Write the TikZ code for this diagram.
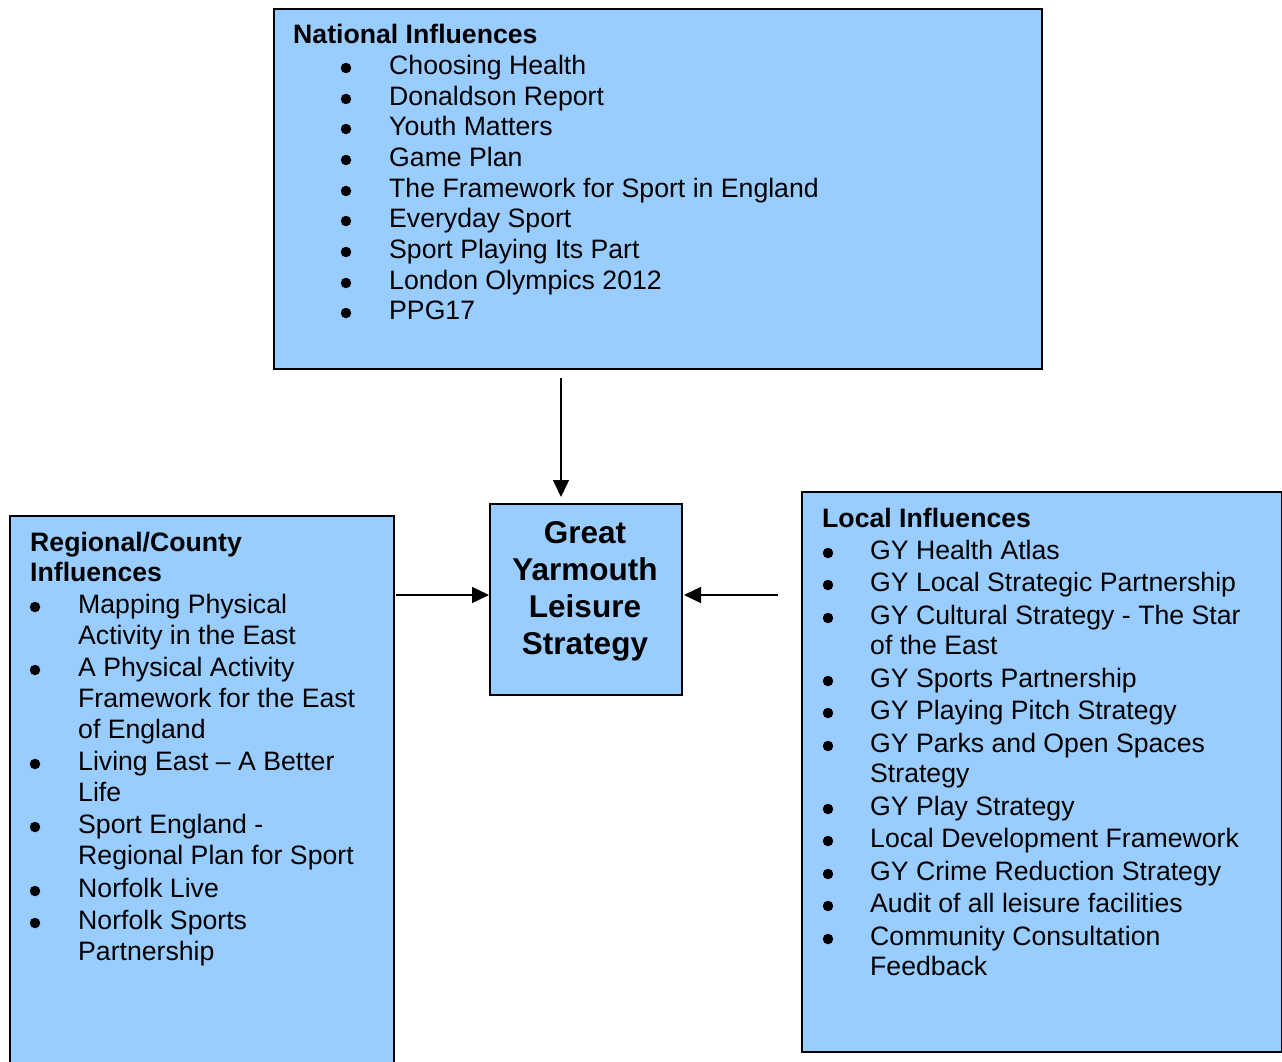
\documentclass[tikz,border=0pt]{standalone}
\usepackage{fontspec}
\setmainfont{Liberation Sans}
\usetikzlibrary{arrows.meta}
\definecolor{boxblue}{HTML}{99CCFF}
\newcommand\normsz{\fontsize{26.65}{30.7}\selectfont}
\newcommand\bigsz{\fontsize{31.5}{37}\selectfont}
\begin{document}
\begin{tikzpicture}[x=1pt,y=-1pt,
  box/.style={draw=black, line width=2pt, fill=boxblue, inner sep=0pt, anchor=north west},
  txt/.style={anchor=base west, inner sep=0pt, font=\normsz},
  hd/.style={anchor=base west, inner sep=0pt, font=\normsz\bfseries},
  bul/.style={circle, fill=black, inner sep=0pt, minimum size=10.5pt},
  ctr/.style={anchor=base, inner sep=0pt, font=\bigsz\bfseries},
  arr/.style={line width=1.5pt, -{Triangle[length=17pt,width=16pt]}}]
\clip (0,0) rectangle (1282,1062);
\fill[white] (0,0) rectangle (1282,1062);
% boxes
\node[box, minimum width=768pt, minimum height=360pt] (nat) at (273,8) {};
\node[box, minimum width=192pt, minimum height=191pt] (gy) at (489,503) {};
\node[box, minimum width=384pt, minimum height=560pt] (reg) at (9,515) {};
\node[box, minimum width=480pt, minimum height=560pt] (loc) at (801,491) {};
% national
\node[hd] (nath) at (293,43.5) {National Influences};
\foreach \t/\y [count=\i] in {Choosing Health/65, Donaldson Report/96, Youth Matters/126,
  Game Plan/157, The Framework for Sport in England/188, Everyday Sport/218,
  Sport Playing Its Part/249, London Olympics 2012/280, PPG17/310} {
  \node[bul] (natb\i) at (346,\y+3) {};
  \node[txt] (natt\i) at (389,\y+9.5) {\t};
}
% centre
\node[ctr] (gy1) at (585,532+11.3) {Great};
\node[ctr] (gy2) at (585,569+11.3) {Yarmouth};
\node[ctr] (gy3) at (585,606+11.3) {Leisure};
\node[ctr] (gy4) at (585,643+11.3) {Strategy};
% regional
\node[hd] (regh1) at (30,542+9.5) {Regional/County};
\node[hd] (regh2) at (30,572+9.5) {Influences};
\foreach \y [count=\i] in {604,667,761,824,888,920} {
  \node[bul] (regb\i) at (35,\y+3) {};
}
\foreach \t/\y [count=\i] in {Mapping Physical/604, Activity in the East/635,
  A Physical Activity/667, Framework for the East/698, of England/729,
  Living East – A Better/761, Life/792, Sport England -/824,
  Regional Plan for Sport/855, Norfolk Live/888, Norfolk Sports/920, Partnership/951} {
  \node[txt] (regt\i) at (78,\y+9.5) {\t};
}
% local
\node[hd] (loch) at (822,518+9.5) {Local Influences};
\foreach \y [count=\i] in {550,582,615,678,710,743,806,838,871,903,936} {
  \node[bul] (locb\i) at (828,\y+3) {};
}
\foreach \t/\y [count=\i] in {GY Health Atlas/550, GY Local Strategic Partnership/582,
  GY Cultural Strategy - The Star/615, of the East/645, GY Sports Partnership/678,
  GY Playing Pitch Strategy/710, GY Parks and Open Spaces/743, Strategy/773,
  GY Play Strategy/806, Local Development Framework/838, GY Crime Reduction Strategy/871,
  Audit of all leisure facilities/903, Community Consultation/936, Feedback/966} {
  \node[txt] (loct\i) at (870,\y+9.5) {\t};
}
% connectors
\coordinate (c1) at (561,378);
\coordinate (c2) at (778,595);
\draw[arr, shorten >=6pt] (c1) -- (c1 |- gy.north);
\draw[arr, shorten <=1pt] (reg.east |- c2) -- (gy.west |- c2);
\draw[arr, shorten >=1pt] (c2) -- (gy.east |- c2);
\end{tikzpicture}
\end{document}
